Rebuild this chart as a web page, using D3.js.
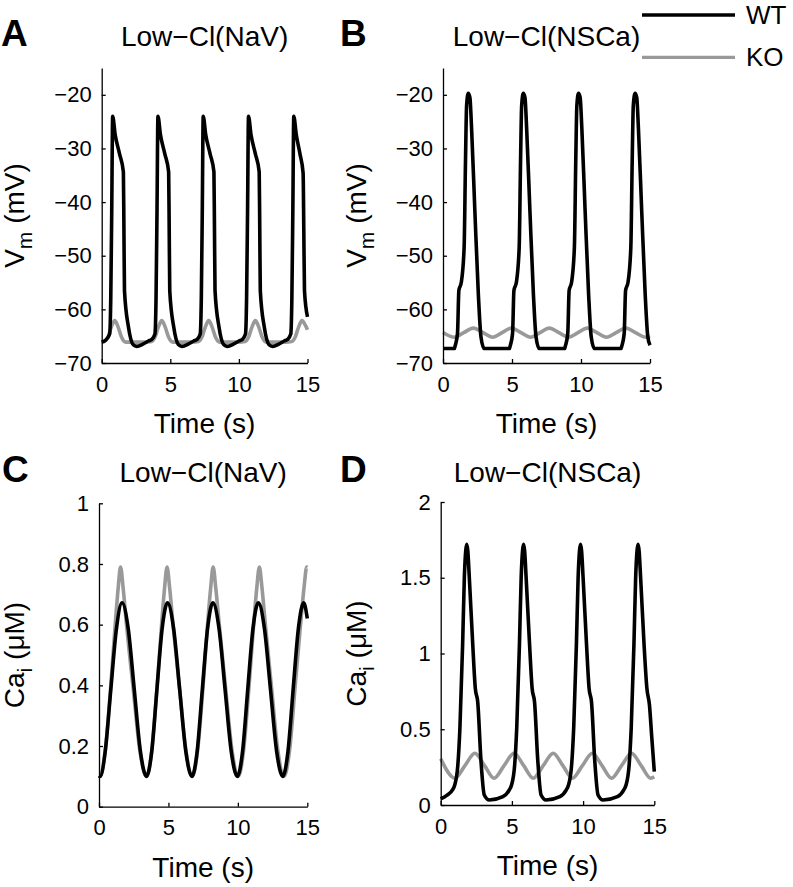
<!DOCTYPE html>
<html><head><meta charset="utf-8">
<script src="https://cdn.jsdelivr.net/npm/d3@7"></script>
<style>
body{margin:0;background:#fff}
svg{display:block}
text{font-family:"Liberation Sans",Arial,Helvetica,sans-serif;fill:#000}
</style>
</head><body>
<svg id="fig" width="793" height="887"></svg>
<script>
// ---------- data ----------
const timeTicks = [0, 5, 10, 15];
const vmTicks = [-70, -60, -50, -40, -30, -20];
const caNaVTicks = [0, 0.2, 0.4, 0.6, 0.8, 1];
const caNSCaTicks = [0, 0.5, 1, 1.5, 2];
const seriesNames = ["WT", "KO"];
const panelTitles = ["Low\u2212Cl(NaV)", "Low\u2212Cl(NSCa)", "Low\u2212Cl(NaV)", "Low\u2212Cl(NSCa)"];
const panelLetters = ["A", "B", "C", "D"];

// Panel A: Vm, Low-Cl(NaV)   [time s, Vm mV]
const vmNaV_WT = [
 [0,-66.1],[0.3,-65.7],[0.58,-64.6],[0.66,-58],[0.73,-42],[0.8,-24],[0.98,-27.4],[1.3,-31],[1.58,-34.4],[1.62,-45],[1.66,-56.5],[1.95,-63.3],[2.3,-66.6],[2.55,-66.9],[3.0,-66.5],[3.4,-65.9],
 [3.65,-65.6],[3.88,-64.6],[3.96,-58],[4.03,-42],[4.1,-24],[4.28,-27.4],[4.6,-31],[4.88,-34.4],[4.92,-45],[4.96,-56.5],[5.25,-63.3],[5.6,-66.6],[5.85,-66.9],[6.3,-66.5],[6.7,-65.9],
 [6.95,-65.6],[7.18,-64.6],[7.26,-58],[7.33,-42],[7.4,-24],[7.58,-27.4],[7.9,-31],[8.18,-34.4],[8.22,-45],[8.26,-56.5],[8.55,-63.3],[8.9,-66.6],[9.15,-66.9],[9.6,-66.5],[10.0,-65.9],
 [10.25,-65.6],[10.48,-64.6],[10.56,-58],[10.63,-42],[10.7,-24],[10.88,-27.4],[11.2,-31],[11.48,-34.4],[11.52,-45],[11.56,-56.5],[11.85,-63.3],[12.2,-66.6],[12.45,-66.9],[12.9,-66.5],[13.3,-65.9],
 [13.55,-65.6],[13.78,-64.6],[13.86,-58],[13.93,-42],[14.0,-24],[14.18,-27.4],[14.45,-31],[14.68,-34.6],[14.73,-45],[14.78,-56.5],[15.0,-61.4]
];
const vmNaV_KO = [
 [0,-66.1],[0.2,-66.0],[0.45,-65.2],[0.7,-63.3],[0.95,-62.1],[1.2,-63.3],[1.45,-65.2],[1.75,-66.1],[3.2,-66.1],
 [3.63,-66.0],[3.88,-65.2],[4.13,-63.3],[4.38,-62.1],[4.63,-63.3],[4.88,-65.2],[5.18,-66.1],[6.6,-66.1],
 [7.05,-66.0],[7.3,-65.2],[7.55,-63.3],[7.8,-62.1],[8.05,-63.3],[8.3,-65.2],[8.6,-66.1],[10.0,-66.1],
 [10.45,-66.0],[10.7,-65.2],[10.95,-63.3],[11.2,-62.1],[11.45,-63.3],[11.7,-65.2],[12.0,-66.1],[13.4,-66.1],
 [13.85,-66.0],[14.1,-65.2],[14.35,-63.3],[14.6,-62.1],[14.85,-63.0],[15.0,-63.8]
];

// Panel B: Vm, Low-Cl(NSCa)
const vmNSCa_WT = [
 [0,-67.3],[0.83,-67.3],[0.88,-66.8],[1.05,-64.5],[1.15,-56.5],[1.33,-54.9],[1.53,-48.5],[1.63,-32.4],[1.71,-22],[1.83,-19.7],[1.95,-20.5],[2.07,-26.2],[2.31,-41.7],[2.56,-57.1],[2.75,-65.1],[2.98,-67.3],
 [4.82,-67.3],[4.87,-66.8],[5.04,-64.5],[5.14,-56.5],[5.32,-54.9],[5.52,-48.5],[5.62,-32.4],[5.7,-22],[5.82,-19.7],[5.94,-20.5],[6.06,-26.2],[6.3,-41.7],[6.55,-57.1],[6.74,-65.1],[6.97,-67.3],
 [8.82,-67.3],[8.87,-66.8],[9.04,-64.5],[9.14,-56.5],[9.32,-54.9],[9.52,-48.5],[9.62,-32.4],[9.7,-22],[9.82,-19.7],[9.94,-20.5],[10.06,-26.2],[10.3,-41.7],[10.55,-57.1],[10.74,-65.1],[10.97,-67.3],
 [12.9,-67.3],[12.96,-66.8],[13.13,-64.5],[13.23,-56.5],[13.41,-54.9],[13.61,-48.5],[13.71,-32.4],[13.79,-22],[13.92,-19.7],[14.04,-20.5],[14.16,-26.2],[14.4,-41.7],[14.65,-57.1],[14.84,-65.1],[15.0,-66.7]
];
const vmNSCa_KO = [
 [0,-64.3],[0.85,-65.2],[1.5,-64.35],[2.2,-63.5],[2.9,-64.35],[3.6,-65.2],[4.28,-64.35],[4.95,-63.5],[5.65,-64.35],
 [6.35,-65.2],[7.03,-64.35],[7.7,-63.5],[8.4,-64.35],[9.1,-65.2],[9.78,-64.35],[10.45,-63.5],[11.15,-64.35],
 [11.85,-65.2],[12.55,-64.35],[13.25,-63.5],[13.95,-64.35],[14.7,-65.2],[15.0,-65.0]
];

// Panel C: Ca_i, Low-Cl(NaV)   [time s, Ca uM]
const caNaV_WT = [
 [0,0.102],[0.08,0.1],[0.45,0.183],[0.85,0.386],[1.26,0.588],[1.66,0.672],[2.1,0.588],[2.54,0.386],[2.98,0.183],[3.42,0.1],
 [3.8,0.183],[4.17,0.386],[4.55,0.588],[4.93,0.672],[5.37,0.588],[5.81,0.386],[6.25,0.183],[6.69,0.1],
 [7.07,0.183],[7.44,0.386],[7.82,0.588],[8.2,0.672],[8.64,0.588],[9.08,0.386],[9.52,0.183],[9.96,0.1],
 [10.34,0.183],[10.71,0.386],[11.09,0.588],[11.47,0.672],[11.91,0.588],[12.35,0.386],[12.79,0.183],[13.23,0.1],
 [13.61,0.183],[13.98,0.386],[14.36,0.588],[14.74,0.672],[15.0,0.62]
];
const caNaV_KO = [
 [0,0.102],[0.08,0.1],[0.45,0.185],[0.85,0.4],[1.2,0.62],[1.38,0.72],[1.55,0.79],[1.74,0.72],[1.98,0.6],[2.46,0.39],[2.94,0.185],[3.42,0.1],
 [3.8,0.185],[4.19,0.4],[4.54,0.62],[4.72,0.72],[4.9,0.79],[5.09,0.72],[5.33,0.6],[5.8,0.39],[6.26,0.185],[6.72,0.1],
 [7.1,0.185],[7.5,0.4],[7.85,0.62],[8.04,0.72],[8.22,0.79],[8.41,0.72],[8.66,0.6],[9.12,0.39],[9.58,0.185],[10.03,0.1],
 [10.41,0.185],[10.81,0.4],[11.17,0.62],[11.36,0.72],[11.55,0.79],[11.74,0.72],[11.98,0.6],[12.43,0.39],[12.88,0.185],[13.33,0.1],
 [13.72,0.185],[14.13,0.4],[14.55,0.62],[14.76,0.72],[14.96,0.79],[15.0,0.789]
];

// Panel D: Ca_i, Low-Cl(NSCa)
const caNSCa_WT = [
 [0,0.04],[0.45,0.065],[0.83,0.1],[0.98,0.13],[1.2,0.26],[1.35,0.51],[1.54,1.06],[1.66,1.5],[1.76,1.68],[1.83,1.72],[1.9,1.68],[2.01,1.5],[2.25,1.06],[2.43,0.77],[2.6,0.68],[2.83,0.29],[3.06,0.066],[3.41,0.033],
 [4.37,0.055],[4.82,0.1],[4.97,0.13],[5.19,0.26],[5.34,0.51],[5.53,1.06],[5.65,1.5],[5.75,1.68],[5.82,1.72],[5.89,1.68],[6.0,1.5],[6.24,1.06],[6.42,0.77],[6.59,0.68],[6.82,0.29],[7.05,0.066],[7.4,0.033],
 [8.37,0.055],[8.82,0.1],[8.97,0.13],[9.19,0.26],[9.34,0.51],[9.53,1.06],[9.65,1.5],[9.75,1.68],[9.82,1.72],[9.89,1.68],[10.0,1.5],[10.24,1.06],[10.42,0.77],[10.59,0.68],[10.82,0.29],[11.05,0.066],[11.4,0.033],
 [12.41,0.055],[12.86,0.1],[13.01,0.13],[13.23,0.26],[13.38,0.51],[13.57,1.06],[13.69,1.5],[13.79,1.68],[13.86,1.72],[13.93,1.68],[14.04,1.5],[14.28,1.06],[14.48,0.77],[14.66,0.66],[14.82,0.45],[15.0,0.22]
];
const caNSCa_KO = [
 [0,0.305],[1.0,0.177],[1.7,0.26],[2.4,0.342],[3.08,0.26],[3.75,0.177],[4.45,0.26],[5.15,0.342],[5.83,0.26],
 [6.5,0.177],[7.2,0.26],[7.9,0.342],[8.58,0.26],[9.25,0.177],[9.95,0.26],[10.65,0.342],[11.33,0.26],
 [12.0,0.177],[12.7,0.26],[13.4,0.342],[14.08,0.26],[14.75,0.177],[15.0,0.185]
];

// ---------- drawing ----------
const svg = d3.select("#fig");
const colors = { WT: "#000000", KO: "#999999" };
const fmt = d3.format("~g");

function panel(o) {
  const x = d3.scaleLinear().domain([0, 15]).range([o.left, o.right]);
  const y = d3.scaleLinear().domain(o.yDomain).range([o.bottom, o.top]);
  const g = svg.append("g");

  const line = d3.line().x(d => x(d[0])).y(d => y(d[1])).curve(d3.curveMonotoneX);
  [["KO", o.ko], ["WT", o.wt]].forEach(([name, data]) => {
    g.append("path").datum(data).attr("d", line)
      .attr("fill", "none").attr("stroke", colors[name])
      .attr("stroke-width", 3.6).attr("stroke-linejoin", "round").attr("stroke-linecap", "butt");
  });

  const xa = d3.axisBottom(x).tickValues(timeTicks).tickFormat(fmt)
    .tickSizeInner(-4).tickSizeOuter(0).tickPadding(13);
  const ya = d3.axisLeft(y).tickValues(o.yTicks).tickFormat(fmt)
    .tickSizeInner(-4).tickSizeOuter(0).tickPadding(10);
  [g.append("g").attr("transform", `translate(0,${o.bottom})`).call(xa),
   g.append("g").attr("transform", `translate(${o.left},0)`).call(ya)].forEach(a => {
    a.selectAll("path.domain").attr("stroke", "#000").attr("stroke-width", 1.3);
    a.selectAll(".tick line").attr("stroke", "#000").attr("stroke-width", 1.3);
    a.selectAll(".tick text").attr("font-size", 22).attr("fill", "#000")
      .attr("font-family", '"Liberation Sans",Arial,sans-serif');
  });

  // x label
  g.append("text").attr("x", (o.left + o.right) / 2).attr("y", o.bottom + 70)
    .attr("text-anchor", "middle").attr("font-size", 28).text("Time (s)");

  // y label with subscript
  const cy = (o.top + o.bottom) / 2;
  const yl = g.append("text").attr("transform", `translate(${o.labelX},${cy}) rotate(-90)`)
    .attr("text-anchor", "middle").attr("font-size", 28);
  yl.append("tspan").text(o.yMain);
  yl.append("tspan").attr("font-size", 21).attr("dy", 8).text(o.ySub);
  yl.append("tspan").attr("dy", -8).text(o.yUnit);

  // title
  g.append("text").attr("x", (o.left + o.right) / 2).attr("y", o.titleY)
    .attr("text-anchor", "middle").attr("font-size", 28).text(o.title);

  // panel letter
  g.append("text").attr("x", o.letterX).attr("y", o.titleY)
    .attr("font-size", 37).attr("font-weight", "bold").text(o.letter);
}

panel({ left: 101.7, right: 307.5, top: 68, bottom: 363, yDomain: [-70, -15], yTicks: vmTicks,
  wt: vmNaV_WT, ko: vmNaV_KO, yMain: "V", ySub: "m", yUnit: " (mV)", labelX: 24,
  title: panelTitles[0], titleY: 45.5, letter: panelLetters[0], letterX: 1 });
panel({ left: 443, right: 650, top: 68, bottom: 363, yDomain: [-70, -15], yTicks: vmTicks,
  wt: vmNSCa_WT, ko: vmNSCa_KO, yMain: "V", ySub: "m", yUnit: " (mV)", labelX: 366,
  title: panelTitles[1], titleY: 45.5, letter: panelLetters[1], letterX: 340 });
panel({ left: 99, right: 307.3, top: 503.3, bottom: 806.7, yDomain: [0, 1], yTicks: caNaVTicks,
  wt: caNaV_WT, ko: caNaV_KO, yMain: "Ca", ySub: "i", yUnit: " (\u03bcM)", labelX: 24,
  title: panelTitles[2], titleY: 481.5, letter: panelLetters[2], letterX: 2 });
panel({ left: 440.7, right: 654.3, top: 502, bottom: 805, yDomain: [0, 2], yTicks: caNSCaTicks,
  wt: caNSCa_WT, ko: caNSCa_KO, yMain: "Ca", ySub: "i", yUnit: " (\u03bcM)", labelX: 366,
  title: panelTitles[3], titleY: 481.5, letter: panelLetters[3], letterX: 340 });

// legend
const legY = { WT: 15, KO: 57.3 };
const leg = svg.append("g");
seriesNames.forEach(name => {
  leg.append("line").attr("x1", 642).attr("x2", 735).attr("y1", legY[name]).attr("y2", legY[name])
    .attr("stroke", colors[name]).attr("stroke-width", 3.3);
  leg.append("text").attr("x", 746).attr("y", legY[name] + 9).attr("font-size", 26).text(name);
});
</script>
</body></html>
